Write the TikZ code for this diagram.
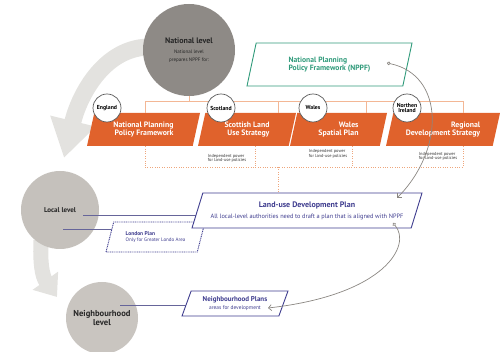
\documentclass[tikz,border=0pt]{standalone}
\usepackage{fontspec}
\setmainfont{PT Sans}
\usetikzlibrary{arrows.meta,positioning,shapes.geometric}

\definecolor{natgray}{HTML}{8E8A86}
\definecolor{localgray}{HTML}{C5C1BC}
\definecolor{nbgray}{HTML}{C9C5C0}
\definecolor{arcgray}{HTML}{E3E2DF}
\definecolor{planorange}{HTML}{E0622C}
\definecolor{lineorange}{HTML}{F3B795}
\definecolor{dotorange}{HTML}{EEA67C}
\definecolor{planpurple}{HTML}{3F3D8F}
\definecolor{linkpurple}{HTML}{66659A}
\definecolor{nppfgreen}{HTML}{2F9A7A}
\definecolor{arrowgray}{HTML}{8B8782}

\newcommand{\fsz}[1]{\fontsize{#1}{#1}\selectfont}

\begin{document}
\begin{tikzpicture}[x=1pt, y=-1pt, every node/.style={inner sep=0pt},
  level/.style={circle, fill=#1, text=black!85, font=\bfseries\fsz{8}, align=center},
  country/.style={circle, draw=black!65, line width=0.7pt, fill=white, minimum size=28, font=\bfseries\fsz{5.8}, align=center},
  orangebox/.style={trapezium, trapezium stretches body, trapezium left angle=64, trapezium right angle=116,
    fill=planorange, text=white, font=\bfseries\fsz{7.8}, align=right, minimum height=33},
  purplebox/.style={trapezium, trapezium stretches body, draw=planpurple, line width=0.9pt, fill=white, text=planpurple},
  smallnote/.style={font=\fsz{4.4}, text=black!80, align=left},
  bracket/.style={draw=lineorange, line width=0.8pt},
  dotline/.style={draw=dotorange, line width=0.8pt, dash pattern=on 0.8pt off 1.6pt},
  link/.style={draw=linkpurple, line width=0.7pt},
  thinarrow/.style={draw=arrowgray, line width=0.7pt, {Circle[open,length=3.5pt,width=3.5pt]}-{Straight Barb[length=3pt,width=6pt]}}]
  \useasboundingbox (0,0) rectangle (500,352);

  % big grey arrows between the levels
  \draw[arcgray, line width=17pt, -{Triangle[width=44pt,length=38pt]}] (150,47) .. controls (106,47) and (80,92) .. (64,158);
  \draw[arcgray, line width=15pt, -{Triangle[width=30pt,length=20pt]}] (41,240) .. controls (40,262) and (42,276) .. (57,297);

  % levels
  \node[level=natgray, minimum size=92] (national) at (189,50)
    {National level\\[2pt]{\mdseries\fsz{5}National level}\\{\mdseries\fsz{5}prepares NPPF for:}};
  \node[level=localgray, minimum size=78, font=\bfseries\fsz{7}] (local) at (60,210) {Local level};
  \node[level=nbgray, minimum size=72, font=\bfseries\fsz{8.6}] (neigh) at (102,318) {Neighbourhood\\level};

  % NPPF
  \node[trapezium, trapezium stretches body, trapezium left angle=58, trapezium right angle=122,
    draw=nppfgreen, line width=0.9pt, text=nppfgreen, font=\bfseries\fsz{7.6}, align=left,
    minimum width=165, minimum height=43] (nppf) at (329.5,64.5) {National Planning\\Policy Framework (NPPF)};

  % national plans
  \node[orangebox, minimum width=113] (eng) at (143.5,129.5) {National Planning\\Policy Framework};
  \node[orangebox, minimum width=98] (sco) at (247,129.5) {Scottish Land\\Use Strategy};
  \node[orangebox, minimum width=97] (wal) at (338.5,129.5) {Wales\\Spatial Plan};
  \node[orangebox, minimum width=114] (nir) at (443,129.5) {Regional\\Development Strategy};

  \draw[bracket] (national.south) -- ++(0,5) coordinate (fork);
  \draw[bracket] (fork -| 145,0) -- (fork -| 463,0);
  \foreach \x/\n in {145/eng,278/sco,366/wal,463/nir}
    \draw[bracket] (fork -| \x,0) -- (\n.north -| \x,0);

  \node[country] (england) at (107,108) {England};
  \node[country] (scotland) at (221,108) {Scotland};
  \node[country] (wales) at (313,108) {Wales};
  \node[country] (nireland) at (407,108) {Northen\\Ireland};

  \node[smallnote] (scopower) at (227,158.5) {Independent power\\for land-use policies};
  \node[smallnote] (walpower) at (328,154) {Independent power\\for land-use policies};
  \node[smallnote] (nirpower) at (438,156.5) {Independent power\\for land-use policies};

  % dotted links down to the local plan
  \coordinate (dotbar) at (278,167);
  \foreach \x/\n in {145/eng,255/sco,352/wal,463/nir}
    \draw[dotline] (\n.south -| \x,0) -- (dotbar -| \x,0);
  \draw[dotline] (dotbar -| 145,0) -- (dotbar -| 463,0);

  % links from the levels
  \coordinate (localA) at (83,215);
  \coordinate (localB) at (63,229);
  \coordinate (neighA) at (120,305);
  \draw[link] (localA) -- (localA -| 205,0);
  \draw[link] (localB) -- (localB -| 125,0);
  \draw[link] (neighA) -- (neighA -| 195,0);

  % local plans
  \node[purplebox, trapezium left angle=56, trapezium right angle=124, dash pattern=on 1pt off 0.8pt,
    minimum width=99, minimum height=30, align=left, font=\bfseries\fsz{5.5}] (london) at (155.5,237)
    {London Plan\\[1pt]\mdseries\fsz{5}Only for Greater Londo Area};
  \node[purplebox, trapezium left angle=59, trapezium right angle=121,
    minimum width=230, minimum height=35, align=center, font=\bfseries\fsz{8}] (landuse) at (307,210.5)
    {Land-use Development Plan\\[3pt]\mdseries\fsz{6.3}All local-level authorities need to draft a plan that is aligned with NPPF};
  \node[purplebox, trapezium left angle=57, trapezium right angle=123,
    minimum width=106, minimum height=25, align=center, font=\bfseries\fsz{7}] (nplans) at (235,303.5)
    {Neighbourhood Plans\\[1pt]\mdseries\fsz{5.4}areas for development};
  \draw[dotline] (dotbar) -- (landuse.north -| dotbar);

  % alignment arrows
  \coordinate (nppfdot) at (387,63);
  \coordinate (ludot) at (393,223);
  \draw[thinarrow] (nppfdot) .. controls (445,75) and (445,150) .. (397,198);
  \draw[thinarrow] (ludot) .. controls (412,245) and (385,295) .. (268,308);
\end{tikzpicture}
\end{document}
